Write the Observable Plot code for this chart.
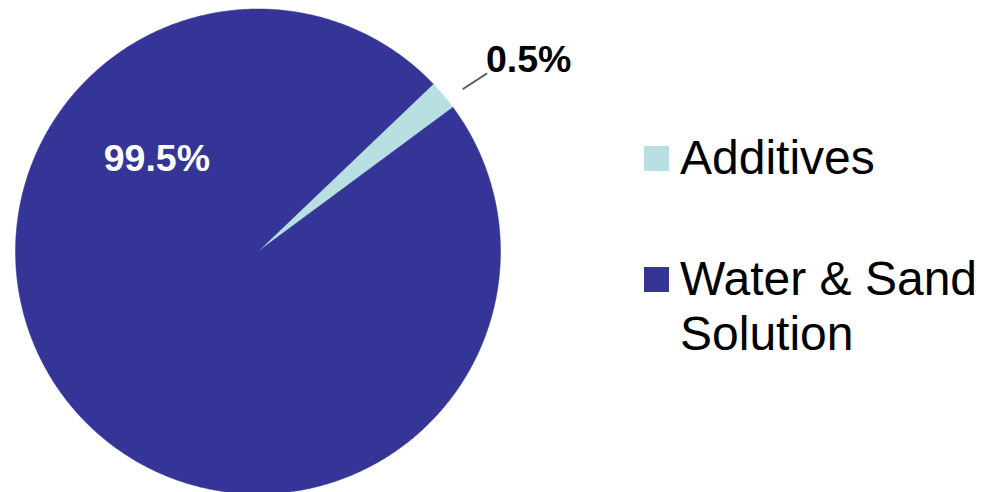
<!DOCTYPE html>
<html>
<head>
<meta charset="utf-8">
<script src="https://cdn.jsdelivr.net/npm/d3@7"></script>
<script src="https://cdn.jsdelivr.net/npm/@observablehq/plot@0.6"></script>
<style>
  html, body { margin: 0; padding: 0; background: #fff; }
  #wrap { position: relative; width: 982px; height: 492px; overflow: hidden; font-family: "Liberation Sans", Arial, sans-serif; }
  .sw { position: absolute; width: 25px; height: 25px; }
  .lt { position: absolute; font-size: 48px; line-height: 55px; color: #000; white-space: nowrap; }
</style>
</head>
<body>
<div id="wrap"></div>
<script>
// ---- data ----
const categories = ["Additives", "Water & Sand Solution"];
const labelText = ["0.5%", "99.5%"];          // labels printed on the chart
const sliceShares = [2.0, 98.0];              // slice sizes as drawn in the picture (%)
const colors = ["#b8e0e2", "#343597"];
const legendLines = [["Additives"], ["Water & Sand", "Solution"]];

// ---- geometry from data ----
const startDeg = 46.3;
const pie = d3.pie().sort(null).value(d => d.share)
  .startAngle(startDeg * Math.PI / 180).endAngle(startDeg * Math.PI / 180 + 2 * Math.PI);
const rows = categories.map((c, i) => ({category: c, share: sliceShares[i], label: labelText[i]}));
const arcs = pie(rows);
const pts = [];
arcs.forEach(a => {
  const n = Math.max(4, Math.ceil((a.endAngle - a.startAngle) / (Math.PI / 360)));
  pts.push({category: a.data.category, x: 0, y: 0});
  for (let k = 0; k <= n; k++) {
    const t = a.startAngle + (a.endAngle - a.startAngle) * k / n;
    pts.push({category: a.data.category, x: Math.sin(t), y: Math.cos(t)});
  }
  pts.push({category: a.data.category, x: 0, y: 0});
});

const chart = Plot.plot({
  width: 982,
  height: 492,
  margin: 0,
  style: {background: "transparent", fontFamily: "Liberation Sans, Arial, sans-serif"},
  x: {domain: [-1, 1], range: [15, 500], axis: null},
  y: {domain: [-1, 1], range: [493.5, 8.5], axis: null},
  color: {domain: categories, range: colors},
  marks: [
    Plot.line(pts, {x: "x", y: "y", z: "category", fill: "category", stroke: "category", strokeWidth: 0.5, curve: "linear-closed"}),
    // leader line for small slice
    Plot.line([{x: 0.847, y: 0.671}, {x: 0.942, y: 0.733}], {x: "x", y: "y", stroke: "#595959", strokeWidth: 2}),
    Plot.text([rows[0]], {x: () => 0.940, y: () => 0.740, text: "label", textAnchor: "start", lineAnchor: "bottom", fontSize: 37.5, fontWeight: "bold", fill: "#000"}),
    Plot.text([rows[1]], {x: () => -0.417, y: () => 0.330, text: "label", textAnchor: "middle", lineAnchor: "bottom", fontSize: 37.5, fontWeight: "bold", fill: "#fff"})
  ]
});
const wrap = document.getElementById("wrap");
wrap.appendChild(chart);

// legend (HTML overlay)
const legendTop = [129.9, 250.9];
categories.forEach((c, i) => {
  const sw = document.createElement("div");
  sw.className = "sw";
  sw.style.left = "644px";
  sw.style.top = (legendTop[i] + 16.1) + "px";
  sw.style.background = colors[i];
  wrap.appendChild(sw);
  legendLines[i].forEach((line, j) => {
    const t = document.createElement("div");
    t.className = "lt";
    t.style.left = "680px";
    t.style.top = (legendTop[i] + j * 55) + "px";
    t.textContent = line;
    wrap.appendChild(t);
  });
});
</script>
</body>
</html>
